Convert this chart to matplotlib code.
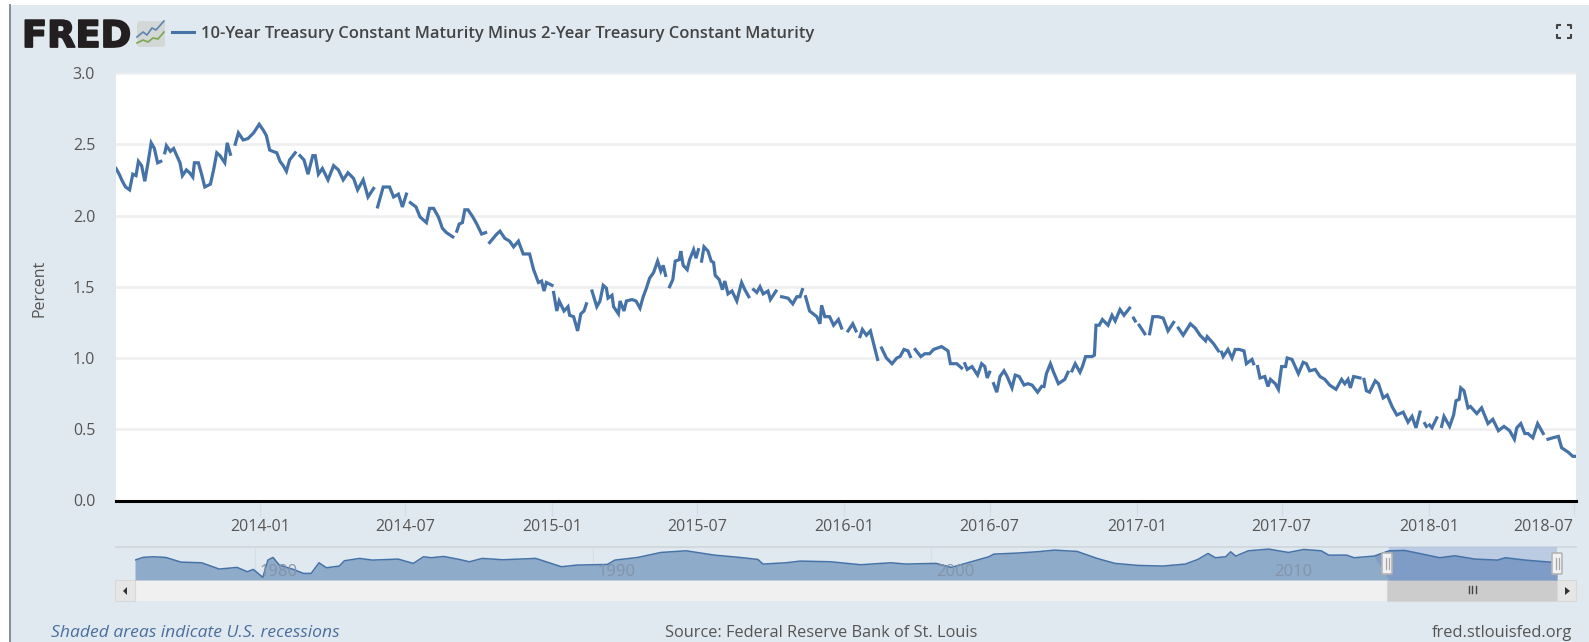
# plot.py - FRED 10Y minus 2Y treasury spread screenshot
import numpy as np
import pandas as pd
import matplotlib
matplotlib.use("Agg")
import matplotlib.pyplot as plt
import matplotlib.patheffects as pe
from matplotlib.patches import Rectangle, FancyBboxPatch, Polygon

plt.rcParams["font.family"] = ["Open Sans", "DejaVu Sans"]

W, H = 1589, 642
nan = float("nan")

TITLE = "10-Year Treasury Constant Maturity Minus 2-Year Treasury Constant Maturity"
Y_TICKS = [0.0, 0.5, 1.0, 1.5, 2.0, 2.5, 3.0]
X_TICKS = ["2014-01", "2014-07", "2015-01", "2015-07", "2016-01", "2016-07",
           "2017-01", "2017-07", "2018-01", "2018-07"]
NAV_YEARS = [1980, 1990, 2000, 2010]

# days counted from 2014-01-01, nan = missing stretch in the series
days = [-180,-176,-172,-168,-163,-159,-155,-152,-148,-144,-140,-136,-132,-128,-124,-122,
        -119,-117,-112,-108,-104,-100,-97,-92,-88,-84,-82,-77,-73,-69,-62,-58,-54,-50,-44,-41,-37,-35,
        -31,-27,-21,-15,-8,-1,4,8,12,16,21,25,29,33,37,44,46,
        50,55,60,66,69,73,78,85,92,98,104,110,117,122,129,135,142,145,
        147,154,162,167,173,178,183,185,
        188,195,200,208,212,217,223,228,233,241,243,
        246,249,253,256,260,266,271,277,282,285,
        287,296,300,306,312,317,323,329,337,342,348,352,355,358,365,366,
        367,371,374,380,385,387,392,397,401,405,408,411,
        415,421,425,429,433,435,440,442,448,450,455,458,465,470,475,479,483,487,492,497,501,504,507,510,
        512,516,519,524,526,529,534,537,542,545,548,550,
        552,555,560,564,567,569,574,578,581,585,590,596,602,606,611,614,
        617,621,625,629,635,638,645,649,
        652,660,666,671,675,678,680,
        682,687,696,700,702,706,712,717,723,727,733,
        735,741,745,747,
        750,753,758,763,767,772,775,
        777,783,790,796,800,805,810,813,816,
        819,826,831,837,842,852,860,863,871,877,880,
        881,884,890,897,902,906,909,912,915,
        917,921,925,930,934,940,944,949,955,960,965,972,977,979,
        980,983,988,992,998,1006,1010,1012,
        1015,1019,1025,1028,1032,1040,1043,1045,1049,1053,1060,1065,1069,1075,1080,1087,1090,
        1092,1094,1096,
        1099,1106,1109,
        1112,1116,1123,1129,1135,1142,1144,
        1148,1154,1163,1169,1175,1182,1184,1192,1198,1200,
        1202,1204,1210,1215,1219,1224,1230,1233,1240,1242,1245,
        1247,1250,1256,1260,1263,1269,1273,1277,1282,1284,1290,1298,1304,1308,1312,1319,1325,1331,1337,1345,
        1352,1356,1360,1363,1367,1375,1378,
        1380,1383,1387,1394,1398,1404,1409,1415,1421,1429,1435,1440,1445,1450,1453,
        1456,1458,1460,
        1462,1465,1471,1474,
        1477,1480,1487,1492,1495,1499,1501,1505,1510,1513,1521,1527,1535,1541,1548,1555,1562,1568,
        1571,1576,1581,1585,1591,1597,1604,1607,
        1610,1616,1623,1627,1635,1641,1645]
spread = [2.33,2.29,2.24,2.20,2.18,2.29,2.28,2.38,2.35,2.24,2.37,2.51,2.47,2.37,2.38,nan,
          2.44,2.49,2.45,2.47,2.42,2.37,2.28,2.32,2.30,2.27,2.37,2.37,2.29,2.20,2.22,2.32,2.44,2.42,2.37,2.51,2.43,nan,
          2.50,2.58,2.53,2.54,2.58,2.64,2.60,2.56,2.46,2.45,2.44,2.38,2.35,2.31,2.39,2.44,nan,
          2.42,2.39,2.29,2.42,2.42,2.29,2.33,2.25,2.35,2.32,2.25,2.30,2.26,2.18,2.25,2.13,2.19,nan,
          2.06,2.20,2.20,2.13,2.15,2.06,2.15,nan,
          2.09,2.06,1.99,1.95,2.05,2.05,1.99,1.91,1.88,1.85,nan,
          1.89,1.94,1.95,2.04,2.04,1.99,1.94,1.87,1.88,nan,
          1.81,1.87,1.89,1.84,1.82,1.78,1.82,1.73,1.73,1.62,1.53,1.54,1.47,1.53,1.51,nan,
          1.46,1.33,1.40,1.33,1.36,1.30,1.29,1.19,1.31,1.33,1.38,nan,
          1.47,1.36,1.40,1.51,1.49,1.42,1.44,1.36,1.31,1.40,1.33,1.40,1.41,1.40,1.35,1.43,1.49,1.56,1.60,1.68,1.61,1.65,1.58,nan,
          1.50,1.55,1.68,1.69,1.75,1.65,1.62,1.69,1.76,1.70,1.76,nan,
          1.68,1.78,1.75,1.68,1.67,1.58,1.55,1.48,1.54,1.45,1.47,1.40,1.53,1.48,1.43,nan,
          1.48,1.46,1.50,1.45,1.47,1.41,1.47,nan,
          1.43,1.42,1.38,1.43,1.43,1.48,nan,
          1.43,1.33,1.29,1.24,1.37,1.29,1.29,1.23,1.27,1.21,nan,
          1.19,1.24,1.19,nan,
          1.15,1.20,1.16,1.19,1.10,0.99,nan,
          1.07,1.00,0.96,1.00,1.01,1.06,1.05,1.01,nan,
          1.06,1.01,1.03,1.03,1.06,1.08,1.05,0.96,0.96,0.93,nan,
          0.96,0.92,0.94,0.88,0.96,0.94,0.86,0.90,nan,
          0.82,0.76,0.87,0.91,0.87,0.79,0.88,0.87,0.81,0.82,0.81,0.76,0.80,nan,
          0.80,0.89,0.96,0.90,0.82,0.85,0.90,nan,
          0.91,0.96,0.90,0.94,1.01,1.01,1.02,1.23,1.23,1.27,1.23,1.30,1.26,1.34,1.30,1.35,nan,
          1.28,1.26,nan,
          1.23,1.17,nan,
          1.17,1.29,1.29,1.28,1.19,1.25,nan,
          1.21,1.16,1.24,1.21,1.16,1.12,1.15,1.10,1.05,nan,
          1.04,1.01,1.06,1.00,1.06,1.06,1.05,0.96,0.99,0.96,nan,
          0.94,0.86,0.87,0.80,0.85,0.82,0.78,0.94,0.94,1.00,0.99,0.89,0.97,0.96,0.91,0.92,0.87,0.85,0.81,0.78,
          0.85,0.82,0.85,0.79,0.87,0.86,nan,
          0.85,0.77,0.76,0.84,0.82,0.72,0.74,0.66,0.60,0.62,0.55,0.59,0.51,0.62,nan,
          0.54,0.52,nan,
          0.53,0.51,0.58,nan,
          0.52,0.59,0.52,0.60,0.70,0.71,0.79,0.77,0.65,0.66,0.61,0.65,0.54,0.57,0.49,0.52,0.49,0.43,
          0.51,0.54,0.47,0.47,0.44,0.54,0.47,nan,
          0.43,0.44,0.45,0.37,0.34,0.31,0.31]

# navigator overview of the whole history
nav_year = [1976.45,1976.68,1976.98,1977.36,1977.81,1978.42,1978.94,1979.47,1979.77,1979.95,1980.23,1980.38,
            1980.53,1980.72,1981.13,1981.43,1981.66,1981.89,1982.11,1982.49,1982.64,1983.09,1983.47,1984.23,
            1984.68,1984.98,1985.21,1985.58,1986.04,1986.34,1986.72,1987.32,1988.30,1989.06,1989.51,1990.42,
            1990.64,1991.32,1992.0,1992.75,1993.58,1994.34,1994.87,1995.02,1995.70,1996.12,1997.01,1997.91,
            1998.80,1999.25,2000.14,2000.59,2001.18,2001.70,2001.85,2002.52,2003.12,2003.64,2004.31,2004.90,
            2005.43,2006.10,2006.84,2007.51,2007.88,2008.18,2008.40,2008.70,2008.85,2009.0,2009.37,2009.97,
            2010.56,2011.01,2011.53,2011.75,2012.28,2012.50,2013.09,2013.54,2013.99,2014.43,2015.03,2015.48,
            2016.07,2016.74,2016.97,2017.56,2018.16,2018.31,2018.5]
nav_val = [0.94,1.46,1.59,1.46,0.55,0.42,-0.80,-0.48,-1.32,-0.87,-2.42,0.94,
           1.46,-0.03,-0.87,-1.65,-1.65,0.42,-0.55,-0.22,0.81,1.27,0.94,1.14,
           0.30,1.59,1.40,1.65,1.07,0.62,1.27,1.01,1.27,-0.35,-0.03,0.10,
           0.94,1.46,2.43,2.75,1.91,1.46,1.07,0.17,0.42,0.75,0.62,0.04,
           0.42,0.17,0.30,-0.48,0.62,1.59,2.11,2.30,2.56,2.88,2.63,1.27,
           0.30,-0.09,-0.22,0.17,1.07,2.24,1.40,1.59,2.56,1.72,2.75,3.08,
           2.43,3.01,2.75,1.91,1.91,1.40,1.72,2.75,2.82,2.24,1.40,1.78,
           1.14,0.94,1.40,0.94,0.62,0.55,0.55]

BG = "#e1e9f0"
LINE = "#4572a7"
TXT = "#555555"

def px_axes(x0, y0, x1, y1, **kw):
    # axes box given in screenshot pixels, y going down
    a = fig.add_axes([x0 / W, 1 - y1 / H, (x1 - x0) / W, (y1 - y0) / H], **kw)
    return a

fig = plt.figure(figsize=(W / 100, H / 100), dpi=100, facecolor="white")

# page background, under everything
bg = px_axes(0, 0, W, H, zorder=-1)
bg.set_xlim(0, W)
bg.set_ylim(H, 0)
bg.axis("off")
bg.add_patch(Rectangle((9, 5), W, H, fc=BG, ec="none"))

# page furniture on top, pixel space
ui = px_axes(0, 0, W, H, zorder=3)
ui.set_xlim(0, W)
ui.set_ylim(H, 0)
ui.axis("off")
ui.patch.set_alpha(0)
ui.plot([9.5, 9.5], [5, H], color="#8a8f94", lw=1.4)

logo = ui.text(22, 47, "FRED", family="DejaVu Sans", weight="bold", fontsize=26.5, color="#231f20", va="baseline")
logo.set_path_effects([pe.withStroke(linewidth=1.3, foreground="#231f20")])
ui.add_patch(FancyBboxPatch((137, 21), 28, 26, boxstyle="round,pad=0,rounding_size=3", fc="#d3d7d6", ec="none"))
ui.plot([137, 143, 147, 152, 156, 164], [37, 32, 35, 28, 30, 21], color="#5b84b1", lw=1.2)
ui.plot([137, 143, 148, 153, 158, 164], [43, 40, 42, 38, 39, 32], color="#7ea652", lw=1.2)
ui.plot([172, 194], [32, 32], color=LINE, lw=2.2)
ui.text(201, 34, TITLE, fontsize=11.9, weight="semibold", color="#444444", va="center")

# fullscreen icon corners
cx0, cx1, cy0, cy1 = 1557, 1571, 25, 38
for sx, sy, hx, hy in [(cx0, cy0, 1, 1), (cx1, cy0, -1, 1), (cx0, cy1, 1, -1), (cx1, cy1, -1, -1)]:
    ui.plot([sx + 4 * hx, sx, sx], [sy, sy, sy + 4 * hy], color="#444444", lw=1.5, solid_capstyle="butt")

# main chart
dates = pd.Timestamp("2014-01-01") + pd.to_timedelta(days, unit="D")
x_start = pd.Timestamp("2014-01-01") + pd.Timedelta(days=-180)
x_end = pd.Timestamp("2014-01-01") + pd.Timedelta(days=1645)

ax = px_axes(116, 73, 1576, 500.5, zorder=2)
ax.set_facecolor("white")
ax.set_xlim(x_start, x_end)
ax.set_ylim(0, 3)
ax.plot(dates, spread, color=LINE, lw=2.3, solid_joinstyle="miter", zorder=3)
ax.set_yticks(Y_TICKS)
ax.set_yticklabels([f"{v:.1f}" for v in Y_TICKS], fontsize=11.5, color=TXT)
ax.set_ylabel("Percent", fontsize=11.5, color=TXT, labelpad=0)
ax.yaxis.set_label_coords(-0.0466, 0.496)
ax.grid(axis="y", color="#efefef", lw=1.8, zorder=1)
ax.set_axisbelow(True)
tick_dates = pd.to_datetime([t + "-01" for t in X_TICKS])
ax.set_xticks(tick_dates)
ax.set_xticklabels(X_TICKS, fontsize=11.5, color=TXT)
ax.xaxis.get_majorticklabels()[-1].set_ha("right")
ax.tick_params(axis="y", length=0, pad=15)
ax.tick_params(axis="x", length=11, width=1, color="#d3dcea", pad=2)
for s in ["top", "left", "right"]:
    ax.spines[s].set_visible(False)
ax.spines["bottom"].set_color("black")
ax.spines["bottom"].set_linewidth(2.2)

# navigator track and scrollbar
bg.plot([116, 1576], [546.5, 546.5], color="#d0d6db", lw=1.2)
bg.add_patch(Rectangle((116, 580), 1460, 21, fc="#f0f0f0", ec="none"))
bg.add_patch(Rectangle((115, 580), 20, 21, fc="#e6e6e6", ec="#d8d8d8", lw=0.8))
bg.add_patch(Polygon([[123, 591], [127, 587], [127, 595]], fc="#333333", ec="none"))
bg.add_patch(Rectangle((1387, 580), 170, 21, fc="#cccccc", ec="#d6d6d6", lw=0.8))
bg.add_patch(Rectangle((1557, 580), 19, 21, fc="#e6e6e6", ec="#d8d8d8", lw=0.8))
bg.add_patch(Polygon([[1570, 591], [1565, 587], [1565, 595]], fc="#333333", ec="none"))
for gx in [1468.5, 1472, 1475.5]:
    bg.plot([gx, gx], [586, 593], color="#444444", lw=1)

nav = px_axes(135, 547, 1557, 580, zorder=1)
nav.set_xlim(1976.45, 2018.5)
nav.set_ylim(-2.93, 3.49)
nav.patch.set_alpha(0)
nav.axis("off")
nav.axvspan(2013.52, 2018.5, color="#aabfde", alpha=0.7, lw=0, zorder=1)
nav.fill_between(nav_year, nav_val, -2.93, color="#8fabca", lw=0, zorder=2)
nav.fill_between(nav_year, nav_val, -2.93, where=[y >= 2013.5 for y in nav_year],
                 color="#7f9cc6", lw=0, zorder=3, interpolate=True)
nav.plot(nav_year, nav_val, color=LINE, lw=1.1, zorder=4)
for yr in NAV_YEARS:
    nav.axvline(yr, color="#d5dde6", lw=0.8, zorder=1)
    nav.text(yr + 0.7, -1.4, str(yr), fontsize=12, color="#8493a6", ha="center", va="center", zorder=5)

# navigator handles
for hx in [1387, 1557]:
    ui.add_patch(FancyBboxPatch((hx - 5, 553), 10, 21, boxstyle="round,pad=0,rounding_size=1",
                                fc="#f2f2f2", ec="#b5b5b5", lw=1.2, zorder=10))
    for gx in [hx - 1.5, hx + 1.5]:
        ui.plot([gx, gx], [558, 569], color="#a8a8a8", lw=0.9, zorder=11)

ui.text(51, 633, "Shaded areas indicate U.S. recessions", fontsize=12.6, style="italic", color="#4a6f9e", va="center")
ui.text(665, 633, "Source: Federal Reserve Bank of St. Louis", fontsize=11.8, color=TXT, va="center")
ui.text(1572, 633, "fred.stlouisfed.org", fontsize=11.9, color=TXT, va="center", ha="right")

fig.savefig("out.png", dpi=100, facecolor=fig.get_facecolor())
